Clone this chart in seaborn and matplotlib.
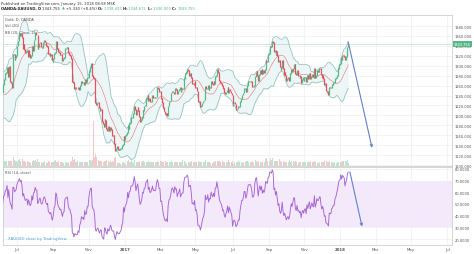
import numpy as np
import pandas as pd
import matplotlib
matplotlib.use("Agg")
import matplotlib.pyplot as plt
import seaborn as sns

# ---------------- data (daily closes, OANDA:XAUUSD) ----------------
close_2016 = [
    # May
    1294, 1290, 1280, 1273, 1290, 1263, 1266, 1277, 1264, 1272, 1274, 1279, 1257, 1253, 1252,
    1249, 1228, 1224, 1221, 1212, 1207, 1215,
    # Jun
    1211, 1210, 1243, 1246, 1245, 1262, 1272, 1275, 1285, 1286, 1297, 1278, 1298, 1280, 1268,
    1266, 1256, 1322, 1323, 1312, 1316, 1321,
    # Jul
    1340, 1350, 1357, 1366, 1360, 1366, 1357, 1335, 1343, 1333, 1327, 1329, 1331, 1318, 1330,
    1323, 1317, 1321, 1340, 1331, 1350,
    # Aug
    1352, 1367, 1362, 1362, 1335, 1338, 1346, 1348, 1338, 1336, 1339, 1347, 1351, 1348, 1341,
    1338, 1340, 1325, 1324, 1321, 1323, 1312, 1308,
    # Sep
    1315, 1325, 1327, 1350, 1347, 1335, 1328, 1326, 1322, 1323, 1317, 1310, 1315, 1316, 1334,
    1336, 1337, 1338, 1327, 1322, 1321, 1315,
    # Oct
    1312, 1268, 1267, 1253, 1257, 1255, 1253, 1253, 1257, 1252, 1260, 1262, 1269, 1266, 1267,
    1263, 1273, 1267, 1268, 1276, 1276,
    # Nov
    1288, 1297, 1303, 1304, 1281, 1276, 1275, 1263, 1226, 1222, 1225, 1226, 1216, 1209, 1213,
    1212, 1188, 1183, 1178, 1192, 1189, 1173,
    # Dec
    1170, 1177, 1169, 1170, 1176, 1171, 1160, 1159, 1159, 1143, 1129, 1134, 1138, 1132, 1132,
    1131, 1133, 1134, 1139, 1141, 1158, 1151,
]
close_2017 = [
    # Jan
    1159, 1161, 1165, 1180, 1173, 1184, 1185, 1196, 1196, 1197, 1204, 1218, 1212, 1202, 1210,
    1217, 1210, 1198, 1188, 1191, 1196, 1210,
    # Feb
    1209, 1219, 1220, 1234, 1236, 1241, 1229, 1234, 1227, 1228, 1233, 1240, 1235, 1236, 1235,
    1237, 1250, 1257, 1254, 1248,
    # Mar
    1248, 1233, 1234, 1226, 1216, 1209, 1203, 1202, 1204, 1199, 1219, 1227, 1229, 1234, 1245,
    1249, 1247, 1243, 1255, 1252, 1253, 1244, 1249,
    # Apr
    1252, 1257, 1248, 1252, 1254, 1254, 1274, 1285, 1286, 1287, 1292, 1290, 1281, 1283, 1284,
    1276, 1264, 1265, 1263, 1268,
    # May
    1255, 1256, 1249, 1228, 1228, 1226, 1217, 1220, 1225, 1229, 1231, 1236, 1259, 1253, 1254,
    1261, 1251, 1257, 1256, 1268, 1264, 1262, 1268,
    # Jun
    1264, 1279, 1280, 1293, 1287, 1279, 1271, 1267, 1265, 1261, 1254, 1255, 1246, 1243, 1247,
    1250, 1256, 1246, 1253, 1249, 1245, 1241,
    # Jul
    1219, 1225, 1226, 1223, 1212, 1213, 1215, 1219, 1218, 1228, 1234, 1241, 1241, 1245, 1254,
    1254, 1247, 1250, 1260, 1268, 1268,
    # Aug
    1269, 1268, 1265, 1258, 1258, 1261, 1278, 1287, 1289, 1281, 1271, 1282, 1290, 1285, 1292,
    1284, 1290, 1287, 1292, 1310, 1309, 1308, 1322,
    # Sep
    1325, 1339, 1339, 1338, 1349, 1347, 1328, 1331, 1322, 1329, 1320, 1308, 1311, 1298, 1293,
    1297, 1311, 1294, 1283, 1287, 1280,
    # Oct
    1271, 1274, 1276, 1270, 1274, 1284, 1293, 1288, 1295, 1303, 1303, 1285, 1282, 1290, 1280,
    1281, 1276, 1278, 1266, 1273, 1276, 1271,
    # Nov
    1276, 1277, 1269, 1281, 1275, 1281, 1285, 1274, 1278, 1283, 1278, 1277, 1294, 1276, 1281,
    1291, 1288, 1288, 1294, 1294, 1283, 1276,
    # Dec
    1280, 1275, 1263, 1264, 1249, 1248, 1246, 1242, 1257, 1256, 1256, 1262, 1263, 1266, 1266,
    1274, 1276, 1281, 1287, 1295, 1303,
]
close_2018 = [1304, 1316, 1312, 1321, 1320, 1319, 1312, 1319, 1322, 1338, 1343.755]
first_open = 1290

volume_2016 = [
    4, 4, 5, 5, 6, 4, 4, 4, 4, 4, 4, 4, 5, 5, 4, 4, 5, 4, 4, 4, 2, 4,
    4, 4, 6, 4, 4, 5, 5, 5, 5, 5, 6, 6, 5, 5, 5, 5, 6, 25, 9, 6, 5, 5,
    6, 4, 6, 7, 5, 7, 5, 7, 5, 5, 4, 4, 4, 5, 4, 4, 3, 4, 6, 5, 6,
    5, 6, 5, 4, 7, 4, 4, 4, 4, 4, 3, 4, 5, 4, 4, 3, 3, 5, 4, 4, 3, 4, 4,
    4, 5, 2, 6, 4, 4, 5, 4, 4, 4, 4, 4, 3, 3, 6, 4, 4, 3, 4, 4, 4, 4,
    5, 9, 6, 6, 7, 4, 4, 5, 4, 5, 4, 4, 4, 4, 4, 3, 4, 4, 4, 4, 4,
    5, 6, 6, 5, 6, 9, 45, 9, 12, 9, 7, 6, 6, 5, 5, 5, 7, 4, 4, 5, 5, 6,
    5, 5, 5, 4, 5, 4, 5, 5, 4, 8, 9, 5, 4, 3, 3, 3, 2, 1, 3, 3, 4, 3,
]
volume_2017 = [
    2, 4, 4, 5, 6, 4, 4, 6, 6, 4, 3, 6, 5, 5, 4, 4, 4, 5, 5, 4, 4, 5,
    5, 4, 5, 4, 4, 4, 5, 4, 3, 4, 4, 4, 4, 2, 4, 4, 4, 5, 4, 4,
    4, 5, 5, 4, 4, 4, 4, 5, 4, 4, 7, 5, 4, 4, 5, 4, 4, 4, 4, 4, 4, 4, 4,
    4, 4, 4, 4, 6, 4, 5, 5, 4, 2, 4, 4, 4, 4, 4, 5, 5, 4, 4, 4,
    4, 4, 5, 6, 5, 4, 4, 4, 4, 4, 4, 4, 6, 5, 4, 4, 4, 4, 3, 4, 2, 3, 4,
    4, 5, 3, 6, 5, 5, 5, 4, 4, 6, 5, 4, 4, 4, 4, 4, 4, 6, 4, 4, 4, 4,
    5, 2, 4, 4, 6, 4, 4, 5, 4, 4, 4, 4, 3, 4, 5, 3, 4, 5, 5, 4, 4,
    4, 4, 4, 5, 3, 4, 7, 6, 5, 4, 5, 5, 5, 4, 4, 4, 4, 4, 4, 7, 8, 5, 7,
    5, 5, 8, 6, 8, 8, 7, 5, 5, 5, 5, 4, 4, 7, 5, 4, 5, 6, 5, 4, 4,
    4, 4, 4, 4, 6, 4, 5, 4, 4, 5, 4, 5, 4, 4, 4, 3, 4, 4, 5, 4, 4, 4,
    4, 4, 5, 4, 4, 4, 4, 5, 4, 4, 4, 4, 5, 4, 4, 4, 3, 3, 4, 4, 4, 4,
    4, 4, 5, 4, 6, 5, 4, 4, 5, 4, 4, 4, 4, 3, 4, 4, 1, 3, 4, 4, 3,
]
volume_2018 = [1, 4, 4, 5, 5, 4, 4, 5, 5, 6, 3]

price_ticks = [1100, 1120, 1140, 1160, 1180, 1200, 1220, 1240, 1260, 1280,
               1300, 1320, 1340, 1360, 1380]
rsi_ticks = [20, 30, 40, 50, 60, 70, 80]
tick_months = ["2016-07", "2016-09", "2016-11", "2017-01", "2017-03", "2017-05",
               "2017-07", "2017-09", "2017-11", "2018-01", "2018-03", "2018-05", "2018-07"]
tick_labels = ["Jul", "Sep", "Nov", "2017", "Mar", "May", "Jul", "Sep", "Nov",
               "2018", "Mar", "May", "Jul"]

last_price = 1343.755
arrow_price = [(445, 1347.5), (473.8, 1134.5)]
arrow_rsi = [(447, 77.4), (461.7, 30.6)]

# ---------------- derived series ----------------
closes = pd.Series(close_2016 + close_2017 + close_2018, dtype=float)
vols = np.array(volume_2016 + volume_2017 + volume_2018, dtype=float)
dates = pd.bdate_range("2016-05-02", "2018-01-15")
n = len(closes)
assert n == len(dates) == len(vols), (n, len(dates), len(vols))
x = np.arange(n)
opens = pd.Series([first_open] + list(closes[:-1]))
up = closes >= opens

basis = closes.rolling(20).mean()
sd = closes.rolling(20).std(ddof=0)
upper = basis + 2 * sd
lower = basis - 2 * sd

delta = closes.diff()
gain = delta.clip(lower=0)
loss = -delta.clip(upper=0)
ag = gain.ewm(alpha=1 / 14, adjust=False).mean()
al = loss.ewm(alpha=1 / 14, adjust=False).mean()
rsi = 100 - 100 / (1 + ag / al)

all_dates = pd.bdate_range("2016-05-02", "2018-08-31")
tick_pos = [int(np.argmax(all_dates >= pd.Timestamp(m + "-01"))) for m in tick_months]

# ---------------- figure ----------------
sns.set_style("white")
plt.rcParams["font.family"] = ["DejaVu Sans"]
W, H = 474, 255
fig = plt.figure(figsize=(W / 100, H / 100), dpi=100)
fig.patch.set_facecolor("white")

def fx(px):
    return px / W

def fy(py):
    return 1 - py / H

ax = fig.add_axes([fx(3), fy(167), fx(452) - fx(3), fy(16) - fy(167)])
axr = fig.add_axes([fx(3), fy(246), fx(452) - fx(3), fy(168) - fy(246)], sharex=ax)

GREEN = "#53b987"
RED = "#eb4d5c"
GRID = "#efefef"
TXT = "#555555"
SPINE = "#cfcfcf"

x0, x1 = 27.05, 570.6

# Bollinger bands
ax.fill_between(x, lower, upper, color="#ecf6f6", lw=0, zorder=1)
bb = pd.DataFrame({"x": x, "upper": upper, "lower": lower, "basis": basis})
sns.lineplot(data=bb, x="x", y="upper", ax=ax, color="#93bfbc", lw=0.55, zorder=2)
sns.lineplot(data=bb, x="x", y="lower", ax=ax, color="#93bfbc", lw=0.55, zorder=2)
sns.lineplot(data=bb, x="x", y="basis", ax=ax, color="#e58088", lw=0.45, zorder=2)

# candles (bodies)
lo = np.minimum(opens, closes) - 0.8
hi = np.maximum(opens, closes) + 0.8
cols = np.where(up, GREEN, RED)
ax.vlines(x, lo, hi, colors=cols, lw=0.85, zorder=3)

# volume
axv = ax.twinx()
vcols = np.where(up, "#bfe3d0", "#f7c6c9")
axv.bar(x, vols, width=0.8, color=vcols, lw=0)
axv.set_ylim(0, 151)
axv.axis("off")

ax.axhline(last_price, color=GREEN, lw=0.4, alpha=0.5, zorder=2)

ax.set_xlim(x0, x1)
ax.set_ylim(1098, 1402.3)
ax.set_yticks(price_ticks)
ax.set_yticklabels([f"{v:.3f}" for v in price_ticks])
ax.set_xticks(tick_pos)
ax.grid(True, color=GRID, lw=0.5)
ax.set_axisbelow(True)
ax.tick_params(axis="y", left=False, right=False, labelleft=False, labelright=True,
               labelsize=2.6, labelcolor=TXT, pad=2.2, length=0)
ax.tick_params(axis="x", labelbottom=False, length=0)
ax.set_xlabel("")
ax.set_ylabel("")
for s in ax.spines.values():
    s.set_color(SPINE)
    s.set_linewidth(0.6)

ax.annotate("", xy=arrow_price[1], xytext=arrow_price[0],
            arrowprops=dict(arrowstyle="->", color="#6480c8", lw=0.8,
                            shrinkA=0, shrinkB=0, mutation_scale=4), zorder=5)

# RSI panel
axr.axhspan(30, 70, color="#f4e8fd", lw=0, zorder=0)
rd = pd.DataFrame({"x": x, "rsi": rsi})
sns.lineplot(data=rd, x="x", y="rsi", ax=axr, color="#a563d1", lw=0.65, zorder=3)
axr.set_ylim(14.86, 81.7)
axr.set_yticks(rsi_ticks)
axr.set_yticklabels([f"{v:.4f}" for v in rsi_ticks])
axr.set_xticks(tick_pos)
axr.set_xticklabels(tick_labels)
for lbl, t in zip(axr.get_xticklabels(), tick_labels):
    if t.isdigit():
        lbl.set_fontweight("bold")
axr.grid(True, color=GRID, lw=0.5)
axr.set_axisbelow(True)
axr.tick_params(axis="y", left=False, right=False, labelleft=False, labelright=True,
                labelsize=2.6, labelcolor=TXT, pad=2.2, length=0)
axr.tick_params(axis="x", labelsize=2.8, labelcolor=TXT, pad=1.5, length=0)
axr.set_xlabel("")
axr.set_ylabel("")
for s in axr.spines.values():
    s.set_color(SPINE)
    s.set_linewidth(0.6)
axr.annotate("", xy=arrow_rsi[1], xytext=arrow_rsi[0],
             arrowprops=dict(arrowstyle="->", color="#6480c8", lw=0.8,
                             shrinkA=0, shrinkB=0, mutation_scale=4), zorder=5)

# price tag
fig.text(fx(454), fy(44.9), f"{last_price:.3f}", fontsize=2.6, color="white",
         va="center", ha="left",
         bbox=dict(boxstyle="square,pad=0.3", fc=GREEN, ec="none"))

# legends / labels
fig.text(fx(5), fy(20), "Gold, D, OANDA", fontsize=2.6, color=TXT, va="center")
fig.text(fx(5), fy(26.3), "Vol (20)", fontsize=2.6, color=TXT, va="center")
fig.text(fx(5), fy(32.6), "BB (20, Close, 2)", fontsize=2.6, color=TXT, va="center")
fig.text(fx(5), fy(173.5), "RSI (14, close)", fontsize=2.6, color=TXT, va="center")
fig.text(fx(8), fy(239.5), "XAUUSD chart by TradingView", fontsize=2.8,
         color="#4da0dc", va="center")

# header
fig.text(fx(1), fy(3.6), "Published on TradingView.com, January 15, 2018 08:58 MSK",
         fontsize=2.7, color="#333333", va="center")
renderer = fig.canvas.get_renderer()
pieces = [("OANDA:XAUUSD, D ", "#222222", "bold"), ("1343.755 ", "#222222", "normal"),
          ("\u25b2 ", GREEN, "normal"), ("+5.330 (+0.4%) ", "#222222", "normal"),
          ("O: ", "#222222", "bold"), ("1338.425 ", GREEN, "normal"),
          ("H: ", "#222222", "bold"), ("1344.675 ", GREEN, "normal"),
          ("L: ", "#222222", "bold"), ("1336.000 ", GREEN, "normal"),
          ("C: ", "#222222", "bold"), ("1343.755", GREEN, "normal")]
xp = 1
for s, c, w in pieces:
    t = fig.text(fx(xp), fy(9.0), s, fontsize=2.7, color=c, fontweight=w, va="center")
    bbx = t.get_window_extent(renderer)
    xp += bbx.width

fig.savefig("out.png", dpi=100, facecolor="white")
